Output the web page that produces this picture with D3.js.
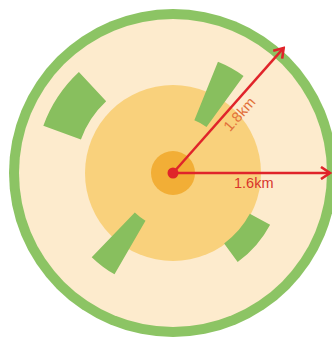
<!DOCTYPE html>
<meta charset="utf-8">
<style>
body { margin: 0; background: #fff; }
text { font-family: "Liberation Sans", Arial, sans-serif; }
</style>
<svg width="332" height="338"></svg>
<script src="https://cdn.jsdelivr.net/npm/d3@7"></script>
<script>

// concentric zones, radius in px-units
var zones = [
  {name: "outer", r: 164, fill: "#8cc464"},
  {name: "field", r: 154, fill: "#fdebcd"},
  {name: "mid",   r: 88,  fill: "#f9d17c"},
  {name: "core",  r: 22,  fill: "#f2ae36"}
];

// green sectors: start/end angle in degrees (clockwise from north), inner/outer radius
var sectorStart = [-70, 22, 210, 118];
var sectorEnd   = [-43, 36, 224, 144];
var sectorInner = [98, 57, 55, 87];
var sectorOuter = [138, 120, 117, 110];

// radius arrows: angle (deg, clockwise from north), length, label
var arrowAngle = [90, 41.5];
var arrowLen   = [157, 167];
var arrowLabel = ["1.6km", "1.8km"];

var svg = d3.select("svg"),
    cx = 173,
    cy = 173;

var r = d3.scaleLinear().domain([0, 164]).range([0, 164]);
var rad = function(d) { return d * Math.PI / 180; };

var g = svg.append("g").attr("transform", "translate(" + cx + "," + cy + ")");

g.selectAll(".zone")
  .data(zones)
  .enter().append("circle")
    .attr("class", "zone")
    .attr("r", function(d) { return r(d.r); })
    .style("fill", function(d) { return d.fill; });

var arc = d3.arc();
g.selectAll(".sector")
  .data(sectorStart)
  .enter().append("path")
    .attr("class", "sector")
    .attr("d", function(d, i) {
      return arc({innerRadius: r(sectorInner[i]), outerRadius: r(sectorOuter[i]),
                  startAngle: rad(d), endAngle: rad(sectorEnd[i])});
    })
    .style("fill", "#88bf5e");

var red = "#e0242a";

svg.append("defs").append("marker")
    .attr("id", "head")
    .attr("viewBox", "0 0 14 14")
    .attr("refX", 12).attr("refY", 7)
    .attr("markerWidth", 14).attr("markerHeight", 14)
    .attr("markerUnits", "userSpaceOnUse")
    .attr("orient", "auto")
  .append("path")
    .attr("d", "M3,1 L12,7 L3,13")
    .style("fill", "none")
    .style("stroke", red)
    .style("stroke-width", 2.6);

g.selectAll(".arrow")
  .data(arrowAngle)
  .enter().append("line")
    .attr("class", "arrow")
    .attr("x1", 0).attr("y1", 0)
    .attr("x2", function(d, i) { return r(arrowLen[i]) * Math.sin(rad(d)); })
    .attr("y2", function(d, i) { return -r(arrowLen[i]) * Math.cos(rad(d)); })
    .attr("marker-end", "url(#head)")
    .style("stroke", red)
    .style("stroke-width", 2.5);

g.append("circle").attr("r", 5.5).style("fill", red);

// horizontal label, below the arrow
g.append("text")
    .attr("x", r(61)).attr("y", 15)
    .style("font-size", "14.5px")
    .style("fill", "#d8352c")
    .text(arrowLabel[0]);

// diagonal label, along the arrow
var a = rad(arrowAngle[1]),
    lx = r(88) * Math.sin(a) + 8,
    ly = -r(88) * Math.cos(a) + 7;
g.append("text")
    .attr("transform", "translate(" + lx + "," + ly + ") rotate(" + (arrowAngle[1] - 90) + ")")
    .attr("text-anchor", "middle")
    .attr("dy", "0.35em")
    .style("font-size", "14.5px")
    .style("fill", "#e2703a")
    .text(arrowLabel[1]);

</script>
